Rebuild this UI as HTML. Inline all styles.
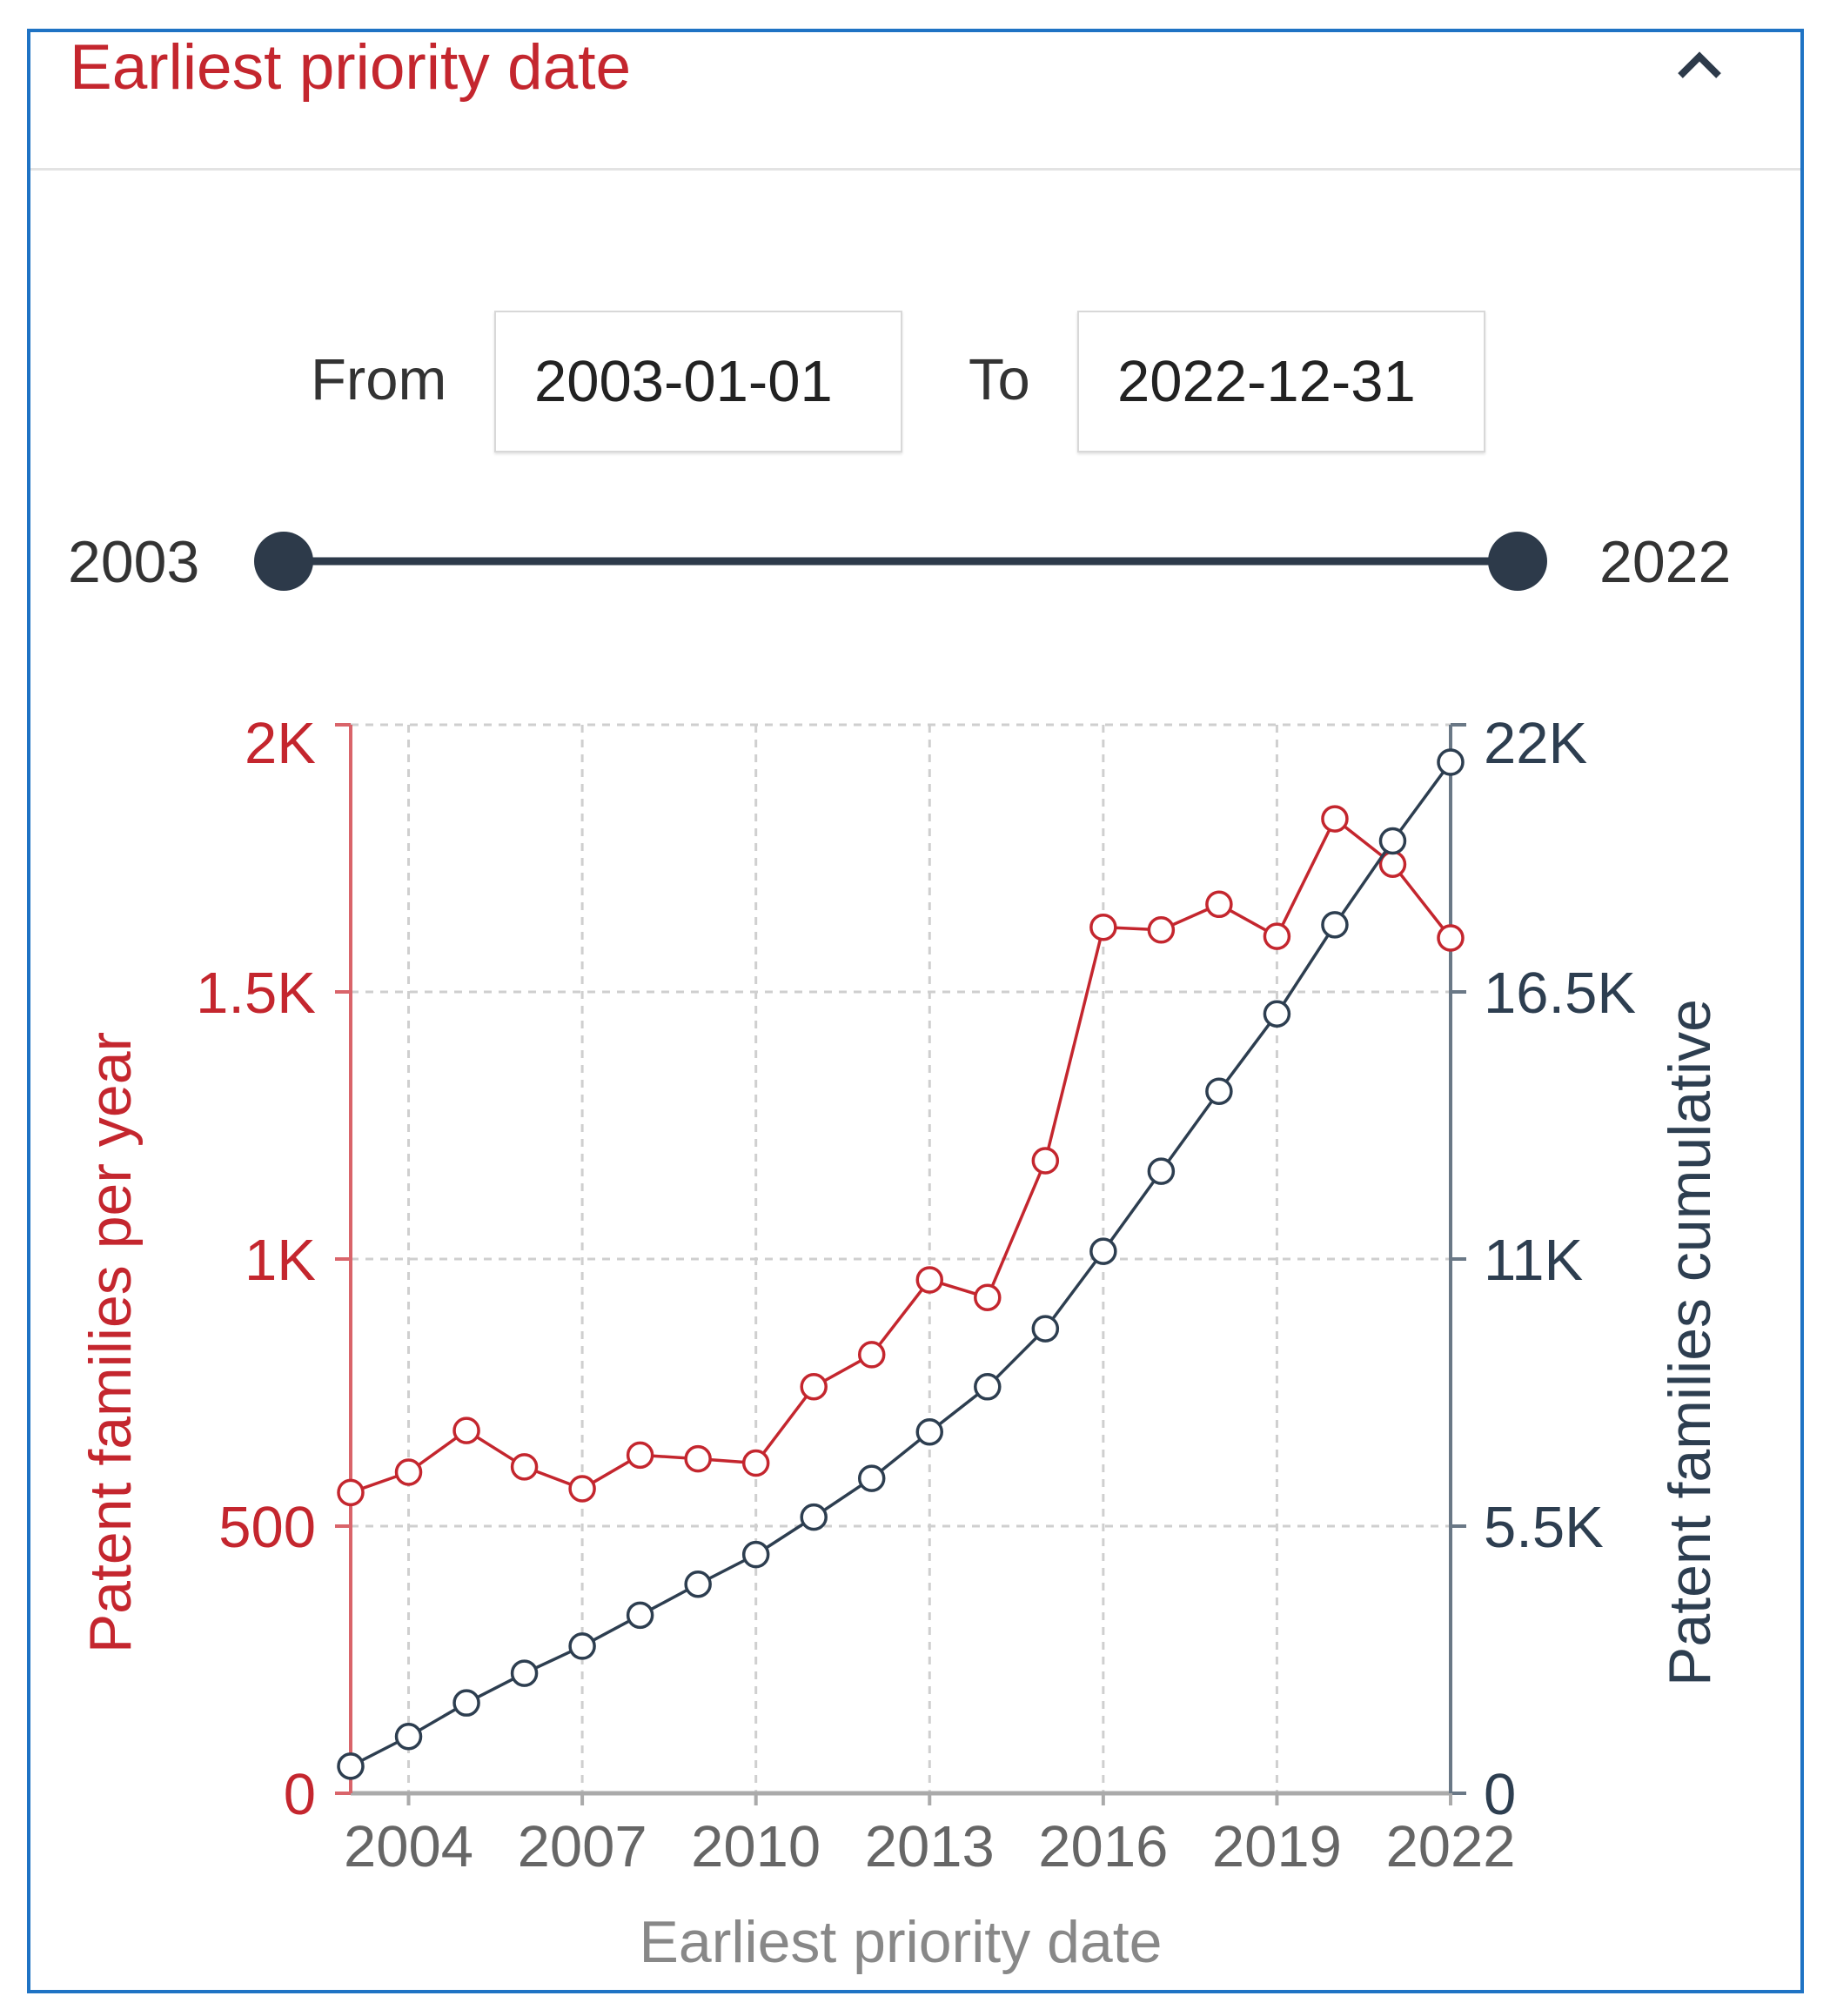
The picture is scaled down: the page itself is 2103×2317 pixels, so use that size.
<!DOCTYPE html>
<html><head><meta charset="utf-8"><style>
html,body{margin:0;padding:0;background:#fff;}
body{width:2103px;height:2317px;position:relative;overflow:hidden;font-family:"Liberation Sans",sans-serif;}
.frame{position:absolute;left:31px;top:33px;width:2034px;height:2250px;border:4px solid #1f73c4;}
.abs{position:absolute;}
.box{position:absolute;border:2px solid #d8d8d8;box-shadow:0 2px 3px rgba(0,0,0,0.12);font-size:67px;color:#222;display:flex;align-items:center;padding-left:44px;box-sizing:border-box;}
</style></head><body>
<div class="frame"></div>
<div class="abs" style="left:80px;top:36px;font-size:73px;color:#c4262e;">Earliest priority date</div>
<svg class="abs" style="left:1923px;top:55px" width="60" height="40"><polyline points="8,32 30,10 52,32" fill="none" stroke="#2d3a4a" stroke-width="8"/></svg>
<div class="abs" style="left:35px;top:193px;width:2034px;height:3px;background:#e3e3e3"></div>
<div class="abs" style="left:357px;top:398px;font-size:67px;color:#333">From</div>
<div class="box" style="left:568px;top:357px;width:469px;height:163px">2003-01-01</div>
<div class="abs" style="left:1113px;top:398px;font-size:67px;color:#333">To</div>
<div class="box" style="left:1238px;top:357px;width:469px;height:163px">2022-12-31</div>
<div class="abs" style="left:78px;top:607px;font-size:68px;color:#333">2003</div>
<div class="abs" style="left:1838px;top:607px;font-size:68px;color:#333">2022</div>
<svg class="abs" style="left:0;top:600px" width="2103" height="100">
<line x1="326" y1="45" x2="1744" y2="45" stroke="#2d3a4a" stroke-width="9"/>
<circle cx="326" cy="45" r="34" fill="#2d3a4a"/>
<circle cx="1744" cy="45" r="34" fill="#2d3a4a"/>
</svg>
<svg id="chart" class="abs" style="left:0;top:0" width="2103" height="2317"></svg>
<script>
const years=[2003,2004,2005,2006,2007,2008,2009,2010,2011,2012,2013,2014,2015,2016,2017,2018,2019,2020,2021,2022];
const perYear=[563,601,679,611,570,633,626,618,761,821,961,928,1184,1621,1616,1664,1604,1824,1739,1601];
const cumulative=[558,1169,1860,2471,3029,3667,4304,4915,5686,6483,7440,8370,9565,11159,12807,14454,16048,17882,19609,21230];
const xTicks=[2004,2007,2010,2013,2016,2019,2022];
const leftTicks=[0,500,1000,1500,2000];
const leftLabels=["0","500","1K","1.5K","2K"];
const rightTicks=[0,5500,11000,16500,22000];
const rightLabels=["0","5.5K","11K","16.5K","22K"];
const L=403,R=1667,T=833,B=2061;
const x=v=>L+(v-2003)/(2022-2003)*(R-L);
const yL=v=>B-v/2000*(B-T);
const yR=v=>B-v/22000*(B-T);
const svg=document.getElementById('chart');
const NS='http://www.w3.org/2000/svg';
function mk(tag,a,p){const e=document.createElementNS(NS,tag);for(const k in a)e.setAttribute(k,a[k]);(p||svg).appendChild(e);return e;}
const RED='#c4262e',NAVY='#2d3e50',GR='#cfcfcf';
const FS=67;
xTicks.forEach(t=>{const e=mk('line',{x1:x(t),x2:x(t),y1:T,y2:B,stroke:GR,'stroke-width':3,'stroke-dasharray':'9,8'});

});
leftTicks.forEach(t=>{if(t===0)return;const e=mk('line',{x1:L,x2:R,y1:yL(t),y2:yL(t),stroke:GR,'stroke-width':3,'stroke-dasharray':'9,8'});

});
const xa=mk('line',{x1:L,x2:R,y1:B,y2:B,stroke:'#aaa','stroke-width':5});


const la=mk('line',{x1:L,x2:L,y1:T,y2:B,stroke:'#d9646a','stroke-width':4});


const ra=mk('line',{x1:R,x2:R,y1:T,y2:B,stroke:'#6a7886','stroke-width':4});


leftTicks.forEach((t,i)=>{mk('line',{x1:L-18,x2:L,y1:yL(t),y2:yL(t),stroke:'#d9646a','stroke-width':4});
const off=(i===leftTicks.length-1)?44:24;
const tx=mk('text',{x:L-40,y:yL(t)+off,'text-anchor':'end','font-size':FS,fill:RED,'font-family':'Liberation Sans, sans-serif'});
tx.textContent=leftLabels[i];

});
rightTicks.forEach((t,i)=>{mk('line',{x1:R,x2:R+18,y1:yR(t),y2:yR(t),stroke:'#6a7886','stroke-width':4});
const off=(i===rightTicks.length-1)?44:24;
const tx=mk('text',{x:R+38,y:yR(t)+off,'text-anchor':'start','font-size':FS,fill:NAVY,'font-family':'Liberation Sans, sans-serif'});
tx.textContent=rightLabels[i];

});
xTicks.forEach(t=>{mk('line',{x1:x(t),x2:x(t),y1:B,y2:B+14,stroke:'#aaa','stroke-width':4});
const tx=mk('text',{x:x(t),y:B+84,'text-anchor':'middle','font-size':FS,fill:'#666','font-family':'Liberation Sans, sans-serif'});
tx.textContent=t;

});
let t1=mk('text',{x:1035,y:2255,'text-anchor':'middle','font-size':68,fill:'#888','font-family':'Liberation Sans, sans-serif'});
t1.textContent='Earliest priority date';


let t2=mk('text',{x:150,y:1543,'text-anchor':'middle','font-size':68,fill:RED,transform:'rotate(-90 150 1543)','font-family':'Liberation Sans, sans-serif'});
t2.textContent='Patent families per year';


let t3=mk('text',{x:1965,y:1543,'text-anchor':'middle','font-size':68,fill:NAVY,transform:'rotate(-90 1965 1543)','font-family':'Liberation Sans, sans-serif'});
t3.textContent='Patent families cumulative';


function series(vals,yf,col,name){
const p=mk('polyline',{points:vals.map((v,i)=>x(years[i])+','+yf(v)).join(' '),fill:'none',stroke:col,'stroke-width':3.5});


vals.forEach((v,i)=>{const c=mk('circle',{cx:x(years[i]),cy:yf(v),r:14,fill:'#fff',stroke:col,'stroke-width':3.5});

});
}
series(perYear,yL,RED,'per-year');
series(cumulative,yR,NAVY,'cumulative');
</script>
</body></html>
